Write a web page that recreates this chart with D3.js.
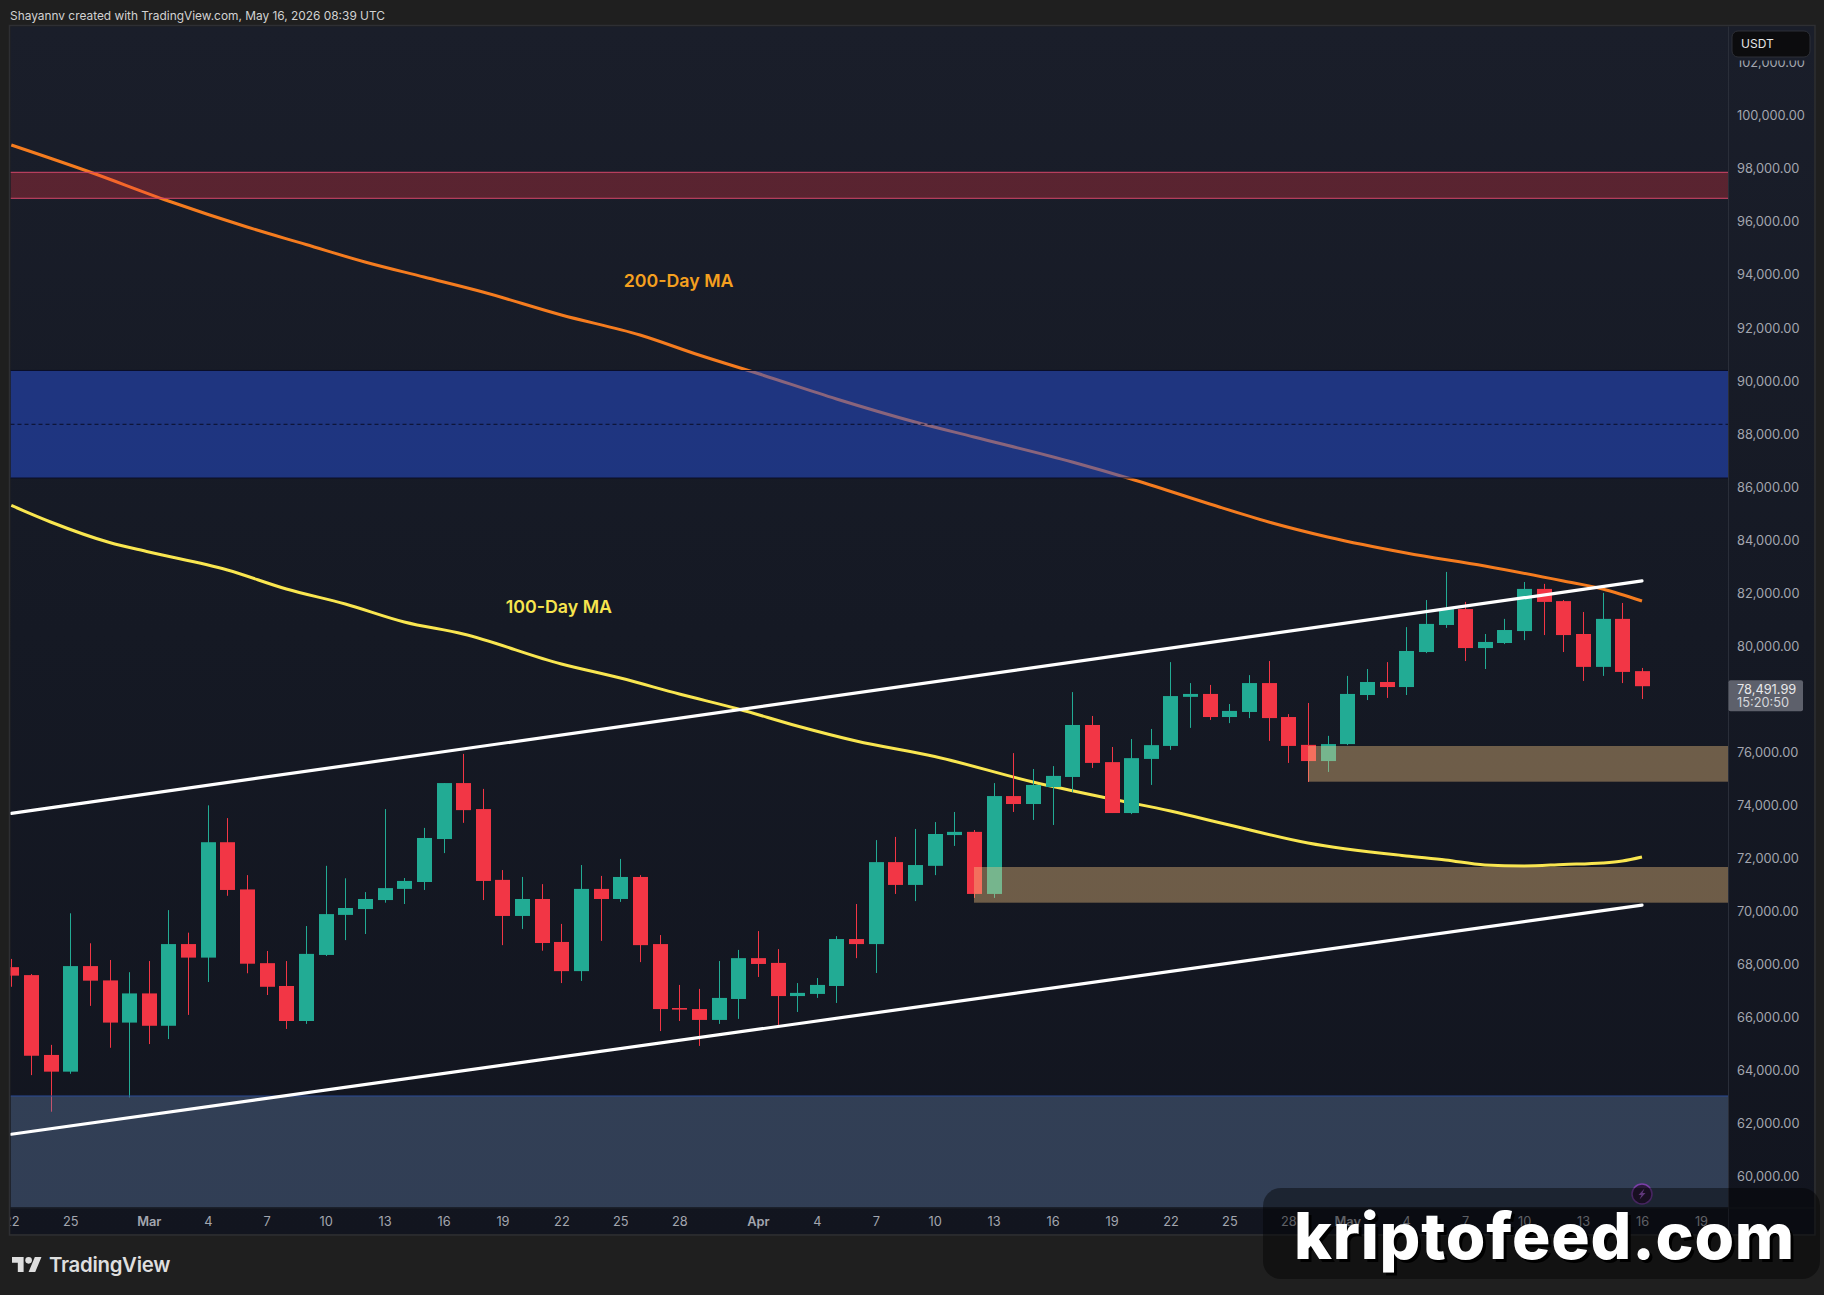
<!DOCTYPE html>
<html>
<head>
<meta charset="utf-8">
<title>BTC/USDT daily</title>
<script src="https://cdn.jsdelivr.net/npm/d3@7"></script>
<style>
  html, body { margin: 0; padding: 0; background: #1f1f1f; overflow: hidden; }
  svg { display: block; }
  text { font-family: Inter, "Noto Sans", sans-serif; }
</style>
</head>
<body>
<svg id="chart" width="1824" height="1295"></svg>
<script>
// Daily candles, Feb 22 to May 16
const firstDay = "2026-02-22";
const opens = [67900,67600,64590,63960,67940,67400,65810,66910,65690,68770,68260,72610,70830,68050,67190,65870,68360,69870,70090,70430,70850,71110,72730,74840,73860,71190,69830,70470,68850,67750,70850,70470,71300,68770,66360,66320,65910,66700,68240,68060,66810,66890,67190,68960,68770,71860,71000,71720,72880,73000,70660,74350,74050,74690,75070,77030,75630,73710,75750,76240,78090,78200,77330,77520,78610,77330,76280,75670,76310,78160,78650,78460,79780,80800,81400,79930,80120,80570,82160,81700,80460,79220,81030,79060];
const highs = [68210,67640,64970,69930,68800,68170,67710,68130,70050,69200,74000,73520,71370,68510,68130,69450,71720,71250,70730,73860,71260,73150,74840,75940,74620,71560,71300,71030,69530,71750,71340,71980,71370,69110,67230,67080,68130,68550,69260,68580,67300,67490,69070,70280,72690,72810,73110,73370,73750,73070,74840,75970,75370,75480,78270,77370,76200,76500,76880,79400,78610,78540,77820,78910,79440,77440,77860,76620,78880,79140,79400,80720,81740,82800,81670,80460,81030,82420,82350,81740,81290,82010,81630,79180];
const lows = [67160,63830,62450,63880,66440,64860,62990,65000,65190,66100,67340,70590,67670,66850,65570,65760,68320,68920,69150,70330,70280,70810,72200,73340,70430,68730,69340,68520,67300,67380,68890,70360,68090,65490,65870,64930,65760,65950,67530,65720,66210,66740,66550,68240,67680,70660,70390,71370,72470,70510,70510,73750,73450,73260,74500,75410,73710,73670,74770,76090,76920,77220,77100,77290,76430,75600,74880,75260,76270,77970,78050,78160,79740,80690,79440,79140,80080,80230,80420,79780,78690,78880,78610,78010];
const closes = [67580,64560,63960,67940,67390,65810,66910,65690,68770,68260,72610,70810,68030,67160,65870,68400,69900,70130,70470,70880,71150,72770,74840,73820,71150,69830,70470,68810,67750,70850,70470,71300,68730,66320,66300,65910,66740,68240,68020,66810,66930,67230,68960,68770,71860,71000,71750,72920,73000,70660,74350,74050,74770,75110,77030,75600,73710,75780,76270,78120,78200,77330,77560,78610,77290,76240,75670,76310,78200,78650,78460,79820,80840,81400,79930,80160,80610,82160,81670,80420,79220,81030,79030,78491.99];

// 200-day and 100-day moving averages, read at the listed candle positions
const ma200Index = [0,4,8,12,15,18,21,24,28,32,35,38,42,46,49,54,57,61,64,67,71,75,79,81,83];
const ma200Values = [98896,97878,96784,95804,95144,94485,93919,93354,92487,91732,90978,90281,89320,88453,87887,86945,86304,85361,84683,84117,83514,83024,82458,82157,81704];
const ma100Index = [0,2,5,7,11,14,17,20,23,28,31,34,37,40,43,47,52,56,59,62,66,71,73,75,77,79,81,82,83];
const ma100Values = [85305,84683,83910,83552,82873,82157,81591,80913,80460,79329,78801,78198,77633,76992,76426,75842,74881,74240,73787,73259,72581,72091,71940,71751,71714,71770,71827,71902,72053];

// Rising channel, from the first candle to the last
const channelUpper = [73700, 82460];
const channelLower = [61600, 70240];

// Horizontal price zones
const supplyZone = [97866, 96886];
const fvgZone = [90394, 86341];
const fvgMid = 88366;
const demandZone = [63043, 58835];
const tanUpper = { from: 66, prices: [76238, 74892] };
const tanLower = { from: 49, prices: [71676, 70330] };

// Axis labels
const priceTicks = d3.range(60000, 102001, 2000);
const timeTicks = [
  ["2026-02-22","22"],["2026-02-25","25"],["2026-03-01","Mar"],["2026-03-04","4"],["2026-03-07","7"],["2026-03-10","10"],
  ["2026-03-13","13"],["2026-03-16","16"],["2026-03-19","19"],["2026-03-22","22"],["2026-03-25","25"],["2026-03-28","28"],
  ["2026-04-01","Apr"],["2026-04-04","4"],["2026-04-07","7"],["2026-04-10","10"],["2026-04-13","13"],["2026-04-16","16"],
  ["2026-04-19","19"],["2026-04-22","22"],["2026-04-25","25"],["2026-04-28","28"],["2026-05-01","May"],["2026-05-04","4"],
  ["2026-05-07","7"],["2026-05-10","10"],["2026-05-13","13"],["2026-05-16","16"],["2026-05-19","19"]
];

// Layout of the TradingView frame
const paneLeft = 10.5, paneRight = 1728, paneTop = 26.5, paneBottom = 1207.5, stripBottom = 1234, frameRight = 1814;

const svg = d3.select("#chart");
const parseDay = d3.utcParse("%Y-%m-%d");
const start = parseDay(firstDay);
const days = opens.map((_, i) => d3.utcDay.offset(start, i));

const x = d3.scaleUtc().domain([days[0], days[days.length - 1]]).range([11.3, 1642]);
const y = d3.scaleLinear().domain([60000, 100000]).range([1176.7, 115.7]);

const defs = svg.append("defs");
const grad = defs.append("linearGradient").attr("id", "paneBg").attr("x1", 0).attr("y1", 0).attr("x2", 0).attr("y2", 1);
grad.append("stop").attr("offset", 0).attr("stop-color", "#1a1e2a");
grad.append("stop").attr("offset", 0.5).attr("stop-color", "#151924");
grad.append("stop").attr("offset", 1).attr("stop-color", "#12151f");
defs.append("clipPath").attr("id", "paneClip").append("rect")
  .attr("x", paneLeft).attr("y", paneTop).attr("width", paneRight - paneLeft).attr("height", paneBottom - paneTop);
defs.append("clipPath").attr("id", "stripClip").append("rect")
  .attr("x", paneLeft).attr("y", paneBottom).attr("width", paneRight - paneLeft).attr("height", stripBottom - paneBottom);

// Frame and background
svg.append("rect").attr("width", 1824).attr("height", 1295).attr("fill", "#1f1f1f");
svg.append("rect").attr("x", paneLeft - 1).attr("y", paneTop - 1).attr("width", frameRight - paneLeft + 2).attr("height", stripBottom - paneTop + 2)
  .attr("fill", "none").attr("stroke", "#2e2f33").attr("stroke-width", 1.5);
svg.append("rect").attr("x", paneLeft).attr("y", paneTop).attr("width", frameRight - paneLeft).attr("height", stripBottom - paneTop)
  .attr("fill", "url(#paneBg)");

const pane = svg.append("g").attr("clip-path", "url(#paneClip)");

// Moving averages sit beneath the candles and the zones
const maLine = d3.line().x(d => x(days[d[0]])).y(d => y(d[1])).curve(d3.curveMonotoneX);
pane.append("path").datum(d3.zip(ma200Index, ma200Values)).attr("d", maLine)
  .attr("fill", "none").attr("stroke", "#f57c1f").attr("stroke-width", 3);
pane.append("path").datum(d3.zip(ma100Index, ma100Values)).attr("d", maLine)
  .attr("fill", "none").attr("stroke", "#f9e650").attr("stroke-width", 3);

// Candles
const candleColor = i => closes[i] >= opens[i] && i !== 83 ? "#22ab94" : "#f23645";
const bodyWidth = 15;
const candles = pane.append("g").selectAll("g").data(days).join("g");
candles.append("line")
  .attr("x1", d => Math.round(x(d)) + 0.5).attr("x2", d => Math.round(x(d)) + 0.5)
  .attr("y1", (d, i) => y(highs[i])).attr("y2", (d, i) => y(lows[i]))
  .attr("stroke", (d, i) => candleColor(i)).attr("stroke-width", 1);
candles.append("rect")
  .attr("x", d => Math.round(x(d)) + 0.5 - bodyWidth / 2).attr("width", bodyWidth)
  .attr("y", (d, i) => y(Math.max(opens[i], closes[i])))
  .attr("height", (d, i) => Math.max(1.5, Math.abs(y(opens[i]) - y(closes[i]))))
  .attr("fill", (d, i) => candleColor(i));

// Zones drawn over the candles
function band(prices, fill, stroke, fromX) {
  const left = fromX === undefined ? paneLeft : fromX;
  pane.append("rect").attr("x", left).attr("width", paneRight - left)
    .attr("y", y(prices[0])).attr("height", y(prices[1]) - y(prices[0])).attr("fill", fill);
  if (stroke) {
    prices.forEach(p => pane.append("line").attr("x1", left).attr("x2", paneRight)
      .attr("y1", y(p)).attr("y2", y(p)).attr("stroke", stroke).attr("stroke-width", 1));
  }
}
band(supplyZone, "rgba(242,54,69,0.30)", "#d4476a");
band(fvgZone, "rgba(38,78,210,0.52)", "#0a0e28");
pane.append("line").attr("x1", paneLeft).attr("x2", paneRight).attr("y1", y(fvgMid)).attr("y2", y(fvgMid))
  .attr("stroke", "#0a0e28").attr("stroke-width", 1).attr("stroke-dasharray", "4 3");
band(demandZone, "rgba(110,140,186,0.35)");
pane.append("line").attr("x1", paneLeft).attr("x2", paneRight).attr("y1", y(demandZone[0])).attr("y2", y(demandZone[0]))
  .attr("stroke", "#2b4a96").attr("stroke-width", 1);
band(tanUpper.prices, "rgba(246,198,130,0.40)", null, x(days[tanUpper.from]));
band(tanLower.prices, "rgba(246,198,130,0.40)", null, x(days[tanLower.from]));

// Channel lines
[channelUpper, channelLower].forEach(c => {
  pane.append("line")
    .attr("x1", x(days[0])).attr("x2", x(days[days.length - 1]))
    .attr("y1", y(c[0])).attr("y2", y(c[1]))
    .attr("stroke", "#ffffff").attr("stroke-width", 3.2).attr("stroke-linecap", "round");
});

// Moving average captions
const maCaption = (t, when, price, color) => pane.append("text")
  .attr("x", x(new Date(when))).attr("y", y(price)).attr("dy", "0.35em")
  .attr("fill", color).attr("font-size", 17.8).attr("font-weight", 600).text(t);
maCaption("200-Day MA", "2026-03-25T04:00:00Z", 93760, "#f5a01f");
maCaption("100-Day MA", "2026-03-19T04:00:00Z", 81478, "#f7e54e");

// Price axis
svg.append("line").attr("x1", paneRight + 0.5).attr("x2", paneRight + 0.5).attr("y1", paneTop).attr("y2", stripBottom)
  .attr("stroke", "#2a2e39");
svg.append("line").attr("x1", paneLeft).attr("x2", frameRight).attr("y1", paneBottom + 0.5).attr("y2", paneBottom + 0.5)
  .attr("stroke", "#1d2028");
const yAxis = d3.axisRight(y).tickValues(priceTicks).tickSize(0).tickPadding(0).tickFormat(d3.format(",.2f"));
const yAxisG = svg.append("g").attr("transform", `translate(1737,0)`).call(yAxis);
yAxisG.select(".domain").remove();
yAxisG.selectAll("text").attr("fill", "#a3a6af").attr("font-size", 12.8).attr("font-family", "Inter, sans-serif");

// Time axis
const tickDates = timeTicks.map(t => parseDay(t[0]));
const xAxis = d3.axisBottom(x).tickValues(tickDates).tickSize(0).tickPadding(0)
  .tickFormat((d, i) => timeTicks[i][1]);
const xAxisG = svg.append("g").attr("clip-path", "url(#stripClip)")
  .append("g").attr("transform", `translate(0,${paneBottom + 9.5})`).call(xAxis);
xAxisG.select(".domain").remove();
xAxisG.selectAll("text").attr("fill", "#a3a6af").attr("font-size", 12.8).attr("font-family", "Inter, sans-serif")
  .attr("font-weight", (d, i) => isNaN(+timeTicks[i][1]) ? 600 : 400);

// Currency chip, with a margin that hides the top of the nearest price label
svg.append("rect").attr("x", paneRight + 1).attr("y", paneTop).attr("width", frameRight - paneRight - 1).attr("height", 34)
  .attr("fill", "#1a1e2a");
svg.append("rect").attr("x", 1732).attr("y", 31).attr("width", 78).attr("height", 26).attr("rx", 6)
  .attr("fill", "#0c0c0e").attr("stroke", "#2d2f36");
svg.append("text").attr("x", 1741).attr("y", 48).attr("fill", "#e6e6e6").attr("font-size", 12).text("USDT");

// Last price tag
const lastClose = closes[closes.length - 1];
svg.append("rect").attr("x", paneRight + 0.5).attr("y", y(lastClose) - 6).attr("width", 74.5).attr("height", 31).attr("rx", 2)
  .attr("fill", "#5d606b");
svg.append("text").attr("x", 1737).attr("y", y(lastClose) + 8).attr("fill", "#e8e8ea").attr("font-size", 12.8)
  .text(d3.format(",.2f")(lastClose));
svg.append("text").attr("x", 1737).attr("y", y(lastClose) + 21).attr("fill", "#d6d7db").attr("font-size", 12.8).text("15:20:50");

// Header and logo
svg.append("text").attr("x", 10).attr("y", 20).attr("fill", "#d2d2d2").attr("font-size", 11.9)
  .text("Shayannv created with TradingView.com, May 16, 2026 08:39 UTC");
const logo = svg.append("g").attr("transform", "translate(12,1253.7) scale(0.83)").attr("fill", "#dedede");
logo.append("path").attr("d", "M14 22H7V11H0V4h14v18zM28 22h-8l7.5-18h8L28 22z");
logo.append("circle").attr("cx", 20).attr("cy", 8).attr("r", 4);
svg.append("text").attr("x", 49).attr("y", 1272).attr("fill", "#dedede").attr("font-size", 20.4).attr("font-weight", 600)
  .attr("letter-spacing", -0.3).text("TradingView");

// Alert marker on the last bar
const marker = svg.append("g").attr("transform", `translate(${x(days[83])},1194)`);
marker.append("circle").attr("r", 10).attr("fill", "#2a1a3a").attr("stroke", "#7b3fa8").attr("stroke-width", 1.5);
marker.append("path").attr("d", "M2.5 -5.5 L-3.5 1 L-0.5 1 L-2.5 5.5 L3.5 -1 L0.5 -1 Z").attr("fill", "#a45fd0");

// Site badge
svg.append("rect").attr("x", 1263).attr("y", 1188).attr("width", 557).attr("height", 91).attr("rx", 18)
  .attr("fill", "rgba(0,0,0,0.42)");
const badgeText = (dx, fill) => svg.append("text").attr("x", 1294 + dx).attr("y", 1259 + dx).attr("fill", fill)
  .attr("font-size", 64).attr("font-weight", 800).attr("font-family", "'Noto Sans', sans-serif")
  .attr("letter-spacing", 0.8).text("kriptofeed.com");
badgeText(3, "#000000");
badgeText(0, "#ffffff");
</script>
</body>
</html>
